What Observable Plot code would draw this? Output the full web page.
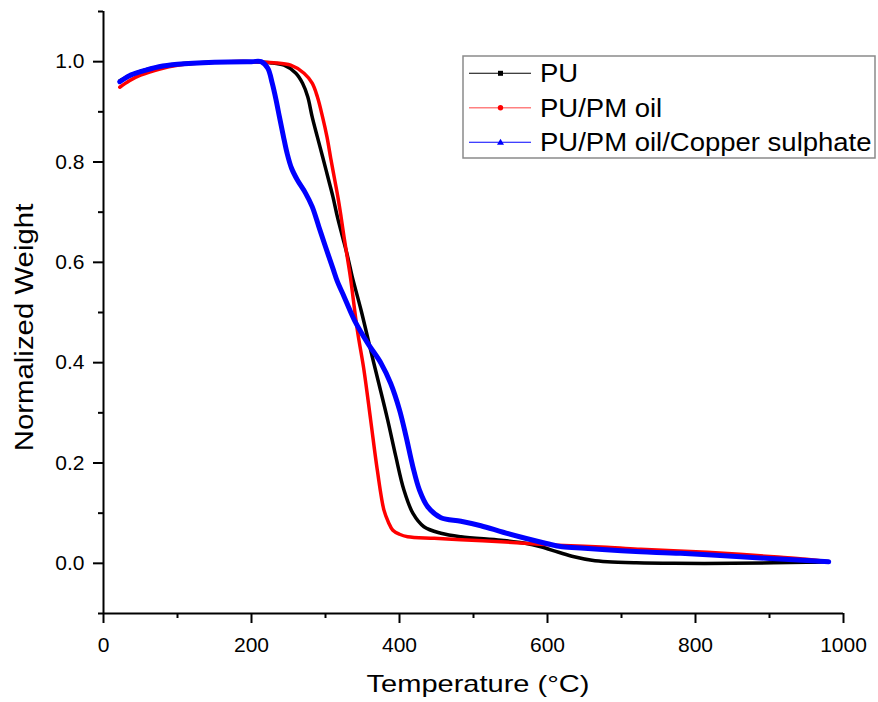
<!DOCTYPE html>
<html><head><meta charset="utf-8">
<script src="https://cdn.jsdelivr.net/npm/d3@7"></script>
<script src="https://cdn.jsdelivr.net/npm/@observablehq/plot@0.6"></script>
<style>
body{margin:0;background:#fff;}
#chart{position:relative;width:878px;height:702px;}
</style></head><body><div id="chart"></div>
<script>
const seriesNames = ["PU", "PU/PM oil", "PU/PM oil/Copper sulphate"];
const seriesColors = ["#000000", "#ff0000", "#0000ff"];
const seriesSymbols = ["square", "circle", "triangle"];

// PU (black)
const puT = [22, 40, 60, 100, 150, 200, 225, 244, 260, 269, 276, 282, 289, 296, 303, 310, 316, 323, 330, 336, 348, 361, 372, 384, 395, 406, 418, 433, 456, 483, 537, 570, 591, 615, 636, 660, 681, 720, 771, 850, 906, 950, 980];
const puW = [0.962, 0.975, 0.985, 0.995, 0.999, 1.0, 0.998, 0.993, 0.977, 0.957, 0.930, 0.890, 0.850, 0.811, 0.771, 0.731, 0.691, 0.651, 0.611, 0.572, 0.505, 0.425, 0.359, 0.286, 0.213, 0.146, 0.100, 0.073, 0.060, 0.053, 0.046, 0.040, 0.033, 0.022, 0.013, 0.006, 0.003, 0.001, 0.0, 0.0, 0.001, 0.002, 0.003];

// PU/PM oil (red)
const oilT = [22, 35, 50, 75, 100, 150, 200, 230, 253, 271, 282, 289, 296, 302, 307, 312, 317, 321, 325, 330, 334, 343, 352, 361, 370, 379, 385, 391, 400, 411, 447, 483, 537, 580, 613, 680, 726, 770, 816, 860, 906, 950, 980];
const oilW = [0.949, 0.962, 0.973, 0.985, 0.993, 0.999, 1.0, 0.998, 0.993, 0.977, 0.957, 0.930, 0.890, 0.850, 0.808, 0.768, 0.728, 0.691, 0.651, 0.605, 0.567, 0.465, 0.385, 0.286, 0.186, 0.106, 0.082, 0.066, 0.058, 0.053, 0.050, 0.047, 0.043, 0.039, 0.036, 0.032, 0.028, 0.025, 0.022, 0.018, 0.013, 0.008, 0.003];

// PU/PM oil/Copper sulphate (blue)
const cuT = [22, 35, 50, 75, 100, 150, 200, 213, 222, 228, 233, 238, 243, 248, 254, 262, 273, 282, 291, 300, 310, 316, 325, 339, 357, 375, 388, 400, 409, 418, 427, 438, 456, 483, 510, 540, 570, 600, 620, 650, 700, 726, 780, 861, 920, 980];
const cuW = [0.960, 0.972, 0.980, 0.990, 0.995, 0.999, 1.0, 1.0, 0.987, 0.957, 0.925, 0.888, 0.852, 0.818, 0.788, 0.764, 0.738, 0.711, 0.671, 0.631, 0.588, 0.562, 0.532, 0.485, 0.439, 0.399, 0.359, 0.306, 0.252, 0.193, 0.146, 0.113, 0.091, 0.084, 0.075, 0.062, 0.050, 0.039, 0.033, 0.030, 0.025, 0.023, 0.020, 0.013, 0.008, 0.003];

const xMajorTicks = [0, 200, 400, 600, 800, 1000];
const xMinorTicks = [100, 300, 500, 700, 900];
const yMajorTicks = [0, 0.2, 0.4, 0.6, 0.8, 1.0];
const yMinorTicks = [-0.1, 0.1, 0.3, 0.5, 0.7, 0.9, 1.1];
const xTitle = "Temperature (°C)";
const yTitle = "Normalized Weight";

const allSeries = [[puT, puW], [oilT, oilW], [cuT, cuW]];
const rows = [];
allSeries.forEach(([T, W], i) => T.forEach((t, j) => rows.push({series: seriesNames[i], T: t, W: W[j]})));
const widths = [3.5, 3.5, 5];

const font = "'Liberation Sans', Arial, sans-serif";
const plot = Plot.plot({
  width: 878, height: 702,
  marginLeft: 103, marginRight: 35, marginTop: 11, marginBottom: 89,
  style: {fontFamily: font, fontSize: "21px", background: "#fff", color: "#000", overflow: "visible"},
  x: {domain: [0, 1000]},
  y: {domain: [-0.1, 1.1]},
  marks: [
    Plot.axisX({ticks: xMajorTicks, tickSize: 10, tickPadding: 14, tickFormat: d3.format("d"), strokeWidth: 2, label: null, fontSize: 21}),
    Plot.axisX({ticks: xMinorTicks, tickSize: 5, tickFormat: () => "", strokeWidth: 2, label: null}),
    Plot.axisY({ticks: yMajorTicks, tickSize: 10, tickPadding: 9, tickFormat: d3.format(".1f"), strokeWidth: 2, label: null, fontSize: 21}),
    Plot.axisY({ticks: yMinorTicks, tickSize: 5, tickFormat: () => "", strokeWidth: 2, label: null}),
    Plot.ruleX([0], {strokeWidth: 2}),
    Plot.ruleY([-0.1], {strokeWidth: 2}),
    ...seriesNames.map((name, i) => Plot.line(rows.filter(d => d.series === name), {
      x: "T", y: "W", stroke: seriesColors[i], strokeWidth: widths[i], curve: "catmull-rom"
    }))
  ]
});
document.getElementById("chart").appendChild(plot);

const svg = d3.select(plot);
// axis titles
svg.append("text")
  .attr("transform", "translate(478,692) scale(1.21,1)")
  .attr("text-anchor", "middle").attr("font-size", 24).attr("font-family", font).attr("fill", "#000")
  .text(xTitle);
svg.append("text")
  .attr("transform", "translate(33,327.5) rotate(-90) scale(1.13,1)")
  .attr("text-anchor", "middle").attr("font-size", 26).attr("font-family", font).attr("fill", "#000")
  .text(yTitle);

// legend
const lg = svg.append("g");
lg.append("rect").attr("x", 463).attr("y", 56).attr("width", 412).attr("height", 102)
  .attr("fill", "#fff").attr("stroke", "#8a8a8a").attr("stroke-width", 1.5);
const lineStroke = ["#000", "#ff8080", "#0000ff"];
seriesNames.forEach((name, i) => {
  const y = 73.3 + i * 34.5;
  lg.append("line").attr("x1", 469).attr("x2", 531).attr("y1", y).attr("y2", y)
    .attr("stroke", lineStroke[i]).attr("stroke-width", i === 1 ? 1.6 : 1.1);
  if (seriesSymbols[i] === "square") {
    lg.append("rect").attr("x", 498).attr("y", y - 2.5).attr("width", 5).attr("height", 5).attr("fill", seriesColors[i]);
  } else if (seriesSymbols[i] === "circle") {
    lg.append("circle").attr("cx", 500.5).attr("cy", y).attr("r", 2.7).attr("fill", seriesColors[i]);
  } else {
    lg.append("path").attr("d", `M500.5,${y - 3.5}L504,${y + 2.5}L497,${y + 2.5}Z`).attr("fill", seriesColors[i]);
  }
  lg.append("text").attr("transform", `translate(540,${y + 9}) scale(1.1,1)`)
    .attr("text-anchor", "start")
    .attr("font-size", 25).attr("font-family", font).attr("fill", "#000").text(name);
});
</script></body></html>
